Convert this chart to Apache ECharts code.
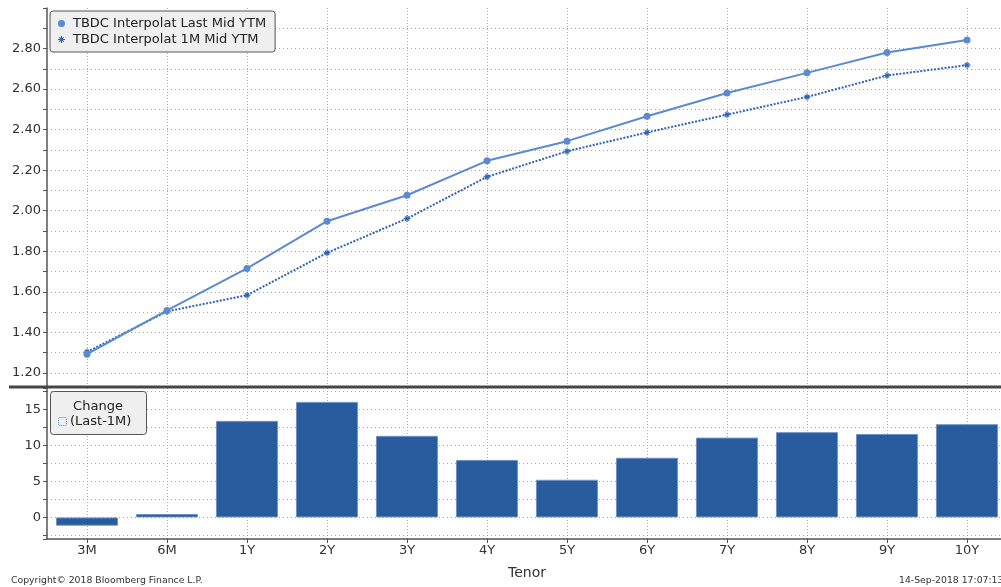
<!DOCTYPE html>
<html>
<head>
<meta charset="utf-8">
<script src="https://cdn.jsdelivr.net/npm/echarts@6/dist/echarts.min.js"></script>
<style>
html,body{margin:0;padding:0;background:#fff;}
#chart{width:1001px;height:587px;}
</style>
</head>
<body>
<div id="chart"></div>
<script>
// ---- data ----
var tenors = ['3M','6M','1Y','2Y','3Y','4Y','5Y','6Y','7Y','8Y','9Y','10Y'];
var lastMid = [1.292,1.508,1.715,1.948,2.076,2.246,2.343,2.466,2.581,2.680,2.780,2.842];
var oneMMid = [1.303,1.503,1.583,1.792,1.961,2.167,2.293,2.386,2.474,2.561,2.667,2.718];
var changeBp = [-1.15,0.47,13.43,16.07,11.35,8.0,5.24,8.3,11.1,11.86,11.6,12.97];
var seriesNames = ['TBDC Interpolat Last Mid YTM','TBDC Interpolat 1M Mid YTM'];
var changeLegend = ['Change','(Last-1M)'];
var axisTitle = 'Tenor';
var copyrightText = 'Copyright\u00a9 2018 Bloomberg Finance L.P.';
var stampText = '14-Sep-2018 17:07:13';

var FONT = 'DejaVu Sans';
var starPath = 'path://M4.2,0h1.6v10h-1.6z M0,4.2h10v1.6h-10z M1.3,2.4L2.4,1.3L8.7,7.6L7.6,8.7Z M7.6,1.3L8.7,2.4L2.4,8.7L1.3,7.6Z';

function pairs(arr){ return arr.map(function(v,i){ return [i, v]; }); }
function isInt(v){ return Math.abs(v - Math.round(v)) < 1e-6; }

var gridDash = { color:'#a8a8a8', width:1, type:[1,3] };
var vGridDash = { color:'#a8a8a8', width:1, type:[1,2] };

var chart = echarts.init(document.getElementById('chart'), null, {renderer:'canvas'});
var option = {
  animation:false,
  backgroundColor:'#ffffff',
  textStyle:{ fontFamily:FONT },
  grid:[
    { left:47, width:960, top:8, height:378, containLabel:false, outerBoundsMode:'none' },
    { left:47, width:960, top:388, height:151, containLabel:false, outerBoundsMode:'none' }
  ],
  legend:{
    show:true,
    left:50, top:11,
    orient:'vertical',
    padding:[5,9,5,8],
    itemGap:1,
    itemWidth:7, itemHeight:7,
    backgroundColor:'#efefef',
    borderColor:'#555',
    borderWidth:1,
    borderRadius:3,
    textStyle:{ fontFamily:FONT, fontSize:13, color:'#222', lineHeight:15, padding:[0,0,0,3] },
    data:[
      { name:seriesNames[0], icon:'circle' },
      { name:seriesNames[1], icon:starPath }
    ]
  },
  xAxis:[
    { gridIndex:0, type:'value', min:-0.5, max:11.5, minInterval:1, maxInterval:1,
      axisLine:{show:false, onZero:false}, axisTick:{show:false}, axisLabel:{show:false},
      splitLine:{ show:true, showMinLine:false, showMaxLine:false, lineStyle:vGridDash } },
    { gridIndex:1, type:'value', min:-0.5, max:11.5, minInterval:1, maxInterval:1,
      name:axisTitle, nameLocation:'middle', nameGap:27,
      nameTextStyle:{ fontFamily:FONT, fontSize:14, color:'#333' },
      axisLine:{ show:true, onZero:false, lineStyle:{ color:'#555', width:1.5 } },
      axisTick:{ show:true, length:4, lineStyle:{ color:'#555' } },
      axisLabel:{ show:true, fontFamily:FONT, fontSize:13, color:'#333', margin:5,
        showMinLabel:false, showMaxLabel:false,
        formatter:function(v){ return isInt(v) && tenors[Math.round(v)] ? tenors[Math.round(v)] : ''; } },
      splitLine:{ show:true, showMinLine:false, showMaxLine:false, lineStyle:vGridDash } }
  ],
  yAxis:[
    { gridIndex:0, type:'value', min:1.135, max:3.0, minInterval:0.1, maxInterval:0.1,
      axisLine:{ show:true, onZero:false, lineStyle:{ color:'#555', width:1.5 } },
      axisTick:{ show:true, length:4, lineStyle:{ color:'#555' } },
      axisLabel:{ show:true, fontFamily:FONT, fontSize:13, color:'#333', margin:6,
        formatter:function(v){
          var t = v*10;
          if (!isInt(t)) return '';
          if (Math.round(t) % 2 !== 0) return '';
          if (Math.round(t) >= 30) return '';
          return v.toFixed(2);
        } },
      splitLine:{ show:true, showMinLine:false, showMaxLine:false, lineStyle:gridDash } },
    { gridIndex:1, type:'value', min:-3, max:18, minInterval:2.5, maxInterval:2.5,
      axisLine:{ show:true, onZero:false, lineStyle:{ color:'#555', width:1.5 } },
      axisTick:{ show:true, length:4, lineStyle:{ color:'#555' } },
      axisLabel:{ show:true, fontFamily:FONT, fontSize:13, color:'#333', margin:6,
        formatter:function(v){
          if (!isInt(v)) return '';
          var r = Math.round(v);
          return (r % 5 === 0 && r >= 0 && r <= 15) ? String(r) : '';
        } },
      splitLine:{ show:true, showMinLine:false, showMaxLine:false, lineStyle:gridDash } }
  ],
  series:[
    { name:seriesNames[0], type:'line', xAxisIndex:0, yAxisIndex:0,
      data:pairs(lastMid), symbol:'circle', symbolSize:7, z:4,
      lineStyle:{ color:'#5b8ad3', width:2 },
      itemStyle:{ color:'#5b8ad3' } },
    { name:seriesNames[1], type:'line', xAxisIndex:0, yAxisIndex:0,
      data:pairs(oneMMid), symbol:starPath, symbolSize:7, z:3,
      lineStyle:{ color:'#2e63b6', width:2, type:[2,1.5] },
      itemStyle:{ color:'#2e63b6' } },
    { name:'Change (Last-1M)', type:'bar', xAxisIndex:1, yAxisIndex:1,
      data:pairs(changeBp), barWidth:62,
      itemStyle:{ color:'#285c9f', borderColor:'#6d93c8', borderWidth:1 } }
  ],
  graphic:[
    { type:'line', z:100, shape:{ x1:9, y1:387, x2:1001, y2:387 },
      style:{ stroke:'#454545', lineWidth:3 } },
    { type:'rect', z:100, shape:{ x:50.5, y:391.5, width:96, height:43, r:3 },
      style:{ fill:'#efefef', stroke:'#555', lineWidth:1 } },
    { type:'text', z:101, x:98, y:407,
      style:{ text:changeLegend[0], font:'13px "DejaVu Sans"', fill:'#222', textAlign:'center', textVerticalAlign:'middle' } },
    { type:'rect', z:101, shape:{ x:58.5, y:417.5, width:8, height:8, r:1 },
      style:{ fill:'none', stroke:'#5b8ad3', lineWidth:1, lineDash:[1,1] } },
    { type:'text', z:101, x:70, y:422,
      style:{ text:changeLegend[1], font:'13px "DejaVu Sans"', fill:'#222', textAlign:'left', textVerticalAlign:'middle' } },
    { type:'text', z:101, x:11, y:581,
      style:{ text:copyrightText, font:'9.3px "DejaVu Sans"', fill:'#333', textAlign:'left', textVerticalAlign:'middle' } },
    { type:'text', z:101, x:899, y:581,
      style:{ text:stampText, font:'9.3px "DejaVu Sans"', fill:'#333', textAlign:'left', textVerticalAlign:'middle' } }
  ]
};
chart.setOption(option);
</script>
</body>
</html>
